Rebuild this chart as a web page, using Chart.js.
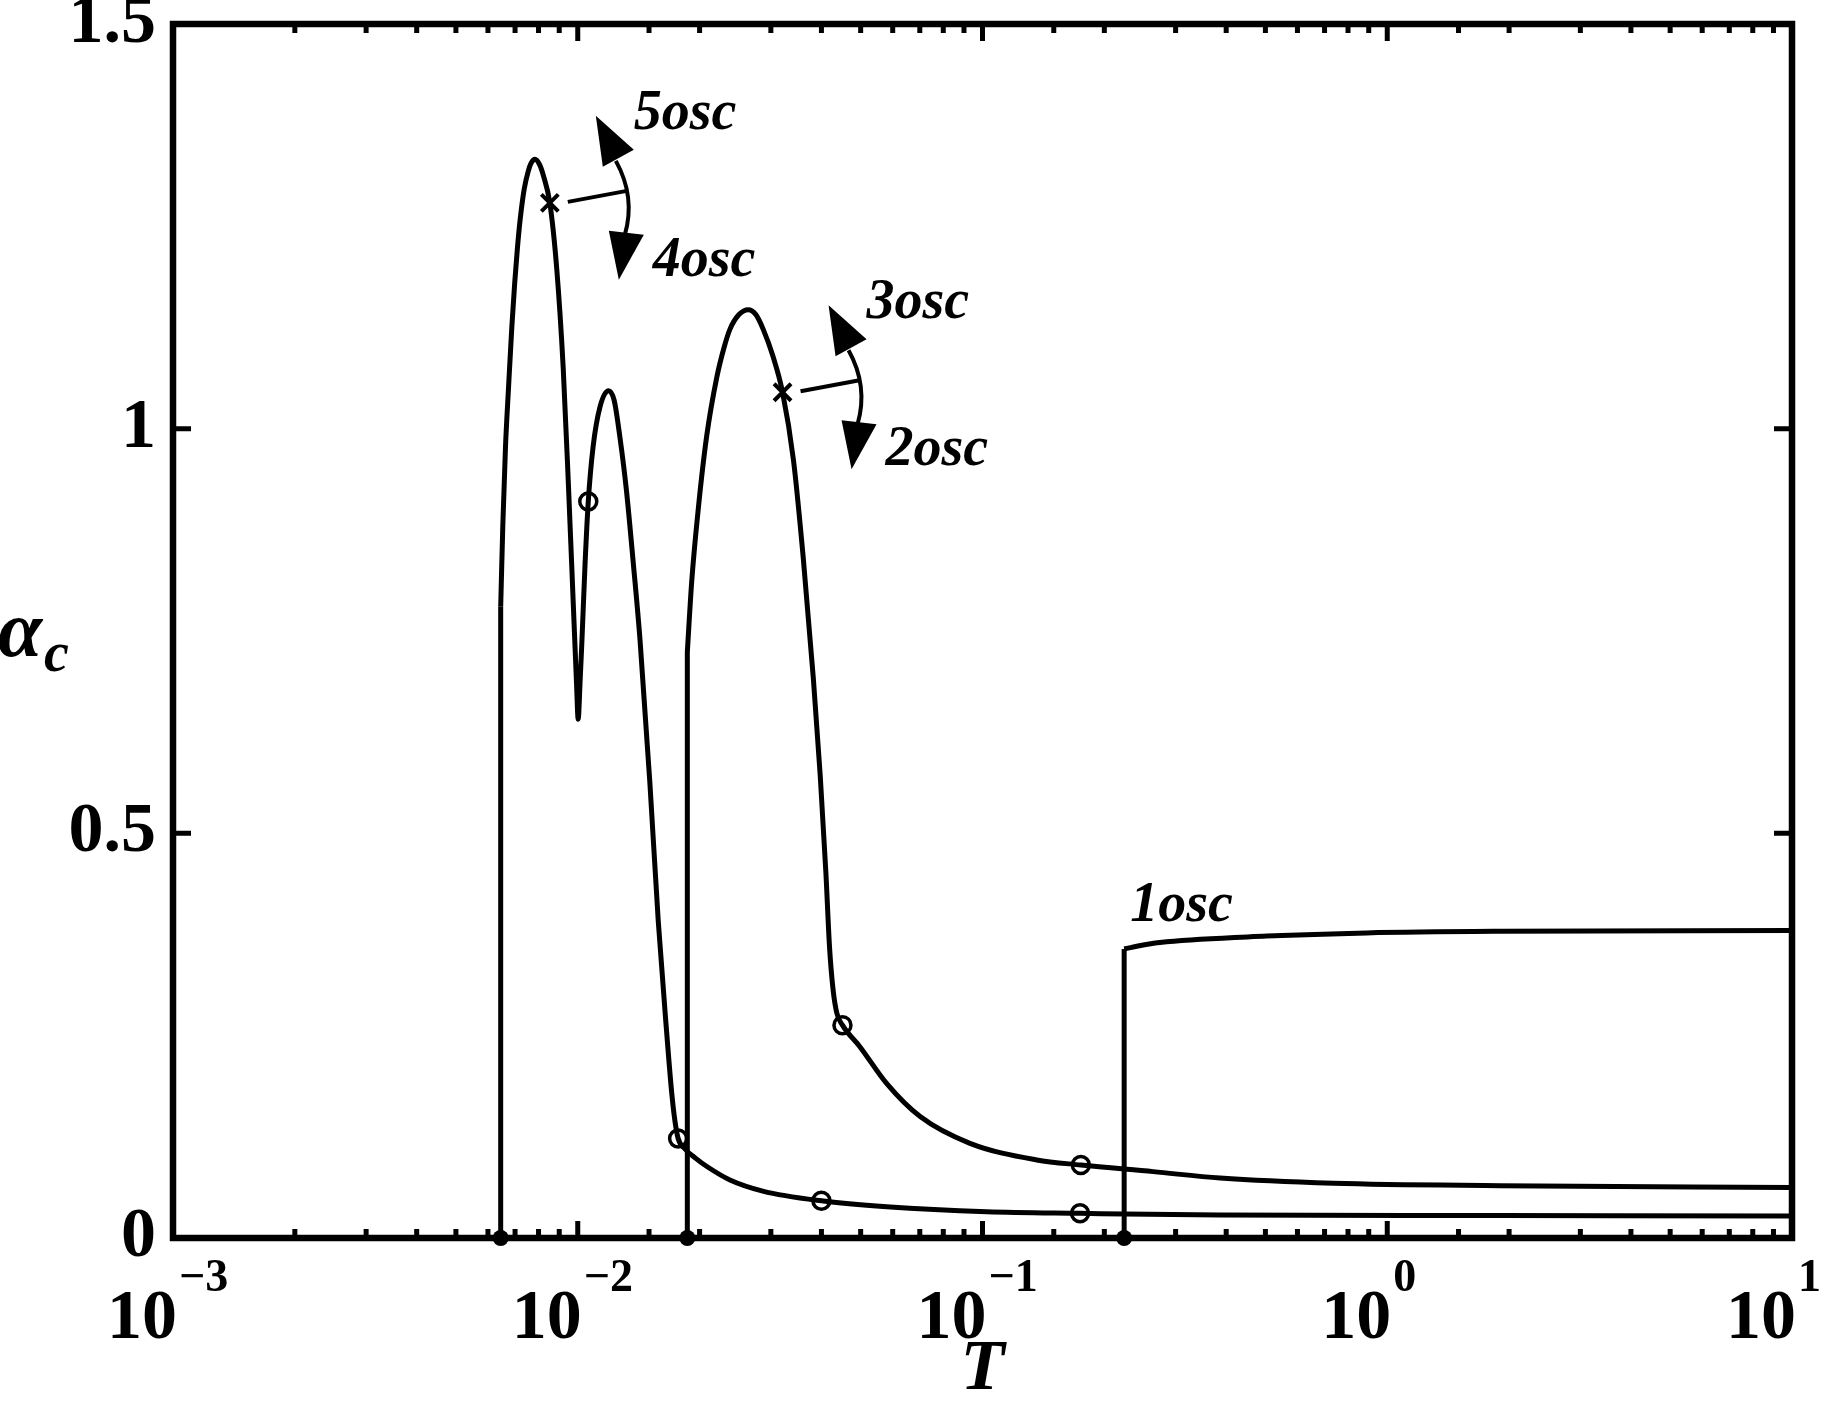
<!DOCTYPE html>
<html>
<head>
<meta charset="utf-8">
<title>alpha_c versus T</title>
<script src="https://cdn.jsdelivr.net/npm/chart.js@4.4.1/dist/chart.umd.min.js"></script>
<style>
    html, body { margin: 0; padding: 0; background: #fff; }
    #wrap { width: 1840px; height: 1403px; position: relative; }
</style>
</head>
<body>
<div id="wrap"><canvas id="chart"></canvas></div>
<script>
        // axis ticks
        const yTicks = [0, 0.5, 1, 1.5];
        const xDecades = [-3, -2, -1, 0, 1];

        // branch A (5osc / 4osc), jumps up from zero at T = 0.00645
        const aT = [0.0064508, 0.0065288, 0.0066298, 0.0067439, 0.0068716, 0.0069860, 0.0070942, 0.0072121,
            0.0073740, 0.0075438, 0.0076681, 0.0078402, 0.008054, 0.008222, 0.008531, 0.008872,
            0.009204, 0.009484, 0.009750, 0.009931, 0.010023, 0.010139, 0.010233, 0.010423,
            0.010617, 0.010914, 0.011350, 0.011912, 0.012303, 0.012706, 0.013183, 0.013709,
            0.014256, 0.015066, 0.015812, 0.016596, 0.017061, 0.017378, 0.017701, 0.018408,
            0.019498, 0.020893, 0.023768, 0.028642, 0.039994, 0.057943, 0.102329, 0.174181,
            0.386367, 1.9011, 10];
        const aAlpha = [0.780, 0.880, 0.978, 1.050, 1.125, 1.180, 1.223, 1.260,
            1.296, 1.318, 1.328, 1.333, 1.326, 1.313, 1.279, 1.198,
            1.076, 0.930, 0.783, 0.685, 0.641, 0.690, 0.734, 0.832,
            0.910, 0.978, 1.027, 1.047, 1.035, 0.990, 0.925, 0.835,
            0.738, 0.564, 0.391, 0.252, 0.180, 0.145, 0.123, 0.110,
            0.099, 0.088, 0.0717, 0.058, 0.046, 0.0387, 0.0325, 0.0305,
            0.0284, 0.0278, 0.0273];

        // branch B (3osc / 2osc), jumps up from zero at T = 0.01865
        const bT = [0.018652, 0.019122, 0.019856, 0.020826, 0.022045, 0.022979, 0.023777, 0.025026,
            0.026386, 0.027542, 0.028708, 0.030339, 0.032063, 0.034119, 0.036058, 0.038194,
            0.039719, 0.041020, 0.041879, 0.042756, 0.043652, 0.045082, 0.049774, 0.057943,
            0.070146, 0.093111, 0.136144, 0.174985, 0.264241, 0.386367, 0.736207, 1.9011, 10];
        const bAlpha = [0.724, 0.811, 0.9015, 0.991, 1.063, 1.100, 1.123, 1.141,
            1.147, 1.141, 1.123, 1.090, 1.045, 0.961, 0.841, 0.692,
            0.572, 0.452, 0.360, 0.306, 0.278, 0.263, 0.2364, 0.191,
            0.150, 0.117, 0.0964, 0.0902, 0.0820, 0.0740, 0.0676, 0.0647, 0.0623];

        // branch C (1osc), jumps up from zero at T = 0.2239
        const cT = [0.22387, 0.249459, 0.285102, 0.503501, 0.889201, 1.9011, 10];
        const cAlpha = [0.357, 0.362, 0.366, 0.373, 0.377, 0.379, 0.380];

        // markers
        const circleT = [0.010617, 0.017701, 0.039994, 0.174181, 0.045082, 0.174985];
        const circleAlpha = [0.910, 0.123, 0.046, 0.0305, 0.263, 0.0902];
        const crossT = [0.008531, 0.032063];
        const crossAlpha = [1.279, 1.045];
        const onsetT = [aT[0], bT[0], cT[0]];
        const onsetAlpha = [0, 0, 0];

        // switch annotations at the crosses
        const switchUp = ['5osc', '3osc'];
        const switchDown = ['4osc', '2osc'];
        const branchCLabel = '1osc';

        const SERIF = '"Liberation Serif", "Times New Roman", serif';

        const pts = (xs, ys) => xs.map((x, i) => ({ x: x, y: ys[i] }));

        function curve(xs, ys) {
            return {
                data: pts(xs, ys),
                borderColor: '#000',
                borderWidth: 5,
                pointRadius: 0,
                cubicInterpolationMode: 'monotone',
                fill: false
            };
        }

        function jump(t, top) {
            return {
                data: [{ x: t, y: 0 }, { x: t, y: top }],
                borderColor: '#000',
                borderWidth: 5,
                pointRadius: 0,
                tension: 0,
                fill: false
            };
        }

        const isDecade = v => Math.abs(Math.log10(v) - Math.round(Math.log10(v))) < 1e-6;

        function triangle(ctx, p) {
            ctx.beginPath();
            ctx.moveTo(p[0], p[1]);
            ctx.lineTo(p[2], p[3]);
            ctx.lineTo(p[4], p[5]);
            ctx.closePath();
            ctx.fill();
        }

        function drawSwitch(ctx, mx, my, upText, downText) {
            ctx.lineWidth = 4;
            ctx.beginPath();
            ctx.moveTo(mx + 18, my - 1);
            ctx.lineTo(mx + 77, my - 12);
            ctx.stroke();

            ctx.beginPath();
            ctx.moveTo(mx + 66, my - 42);
            ctx.quadraticCurveTo(mx + 86, my - 6, mx + 75, my + 32);
            ctx.stroke();

            triangle(ctx, [mx + 46, my - 87, mx + 84, my - 53, mx + 53, my - 36]);
            triangle(ctx, [mx + 69, my + 77, mx + 59, my + 28, mx + 94, my + 32]);

            ctx.font = 'italic bold 56px ' + SERIF;
            ctx.textAlign = 'left';
            ctx.textBaseline = 'alphabetic';
            ctx.fillText(upText, mx + 84, my - 74);
            ctx.fillText(downText, mx + 103, my + 73);
        }

        const decorations = {
            id: 'decorations',
            afterDraw(chart) {
                const { ctx, chartArea: a } = chart;
                const x = chart.scales.x;
                const y = chart.scales.y;
                ctx.save();
                ctx.strokeStyle = '#000';
                ctx.fillStyle = '#000';
                ctx.lineCap = 'butt';

                // inward ticks on all four sides
                ctx.lineWidth = 5;
                x.ticks.forEach(t => {
                    const px = x.getPixelForValue(t.value);
                    if (px < a.left + 2 || px > a.right - 2) return;
                    const len = isDecade(t.value) ? 17 : 9;
                    ctx.beginPath();
                    ctx.moveTo(px, a.bottom);
                    ctx.lineTo(px, a.bottom - len);
                    ctx.moveTo(px, a.top);
                    ctx.lineTo(px, a.top + len);
                    ctx.stroke();
                });
                yTicks.forEach(v => {
                    const py = y.getPixelForValue(v);
                    ctx.beginPath();
                    ctx.moveTo(a.left, py);
                    ctx.lineTo(a.left + 18, py);
                    ctx.moveTo(a.right, py);
                    ctx.lineTo(a.right - 18, py);
                    ctx.stroke();
                });

                // frame
                ctx.lineWidth = 6.5;
                ctx.strokeRect(a.left, a.top, a.right - a.left, a.bottom - a.top);

                // x tick labels 10^n
                ctx.textBaseline = 'alphabetic';
                xDecades.forEach(d => {
                    const px = x.getPixelForValue(Math.pow(10, d));
                    ctx.font = 'bold 70px ' + SERIF;
                    ctx.textAlign = 'right';
                    ctx.fillText('10', px + 4, a.bottom + 100);
                    ctx.font = 'bold 46px ' + SERIF;
                    ctx.textAlign = 'left';
                    ctx.fillText(d < 0 ? '\u2212' + (-d) : String(d), px + 6, a.bottom + 53);
                });

                // y axis label alpha_c
                ctx.textAlign = 'left';
                ctx.font = 'italic bold 80px ' + SERIF;
                ctx.fillText('\u03b1', -2, 656);
                ctx.font = 'italic bold 56px ' + SERIF;
                ctx.fillText('c', 44, 671);

                // switch annotations
                crossT.forEach((t, i) => {
                    drawSwitch(ctx, x.getPixelForValue(t), y.getPixelForValue(crossAlpha[i]), switchUp[i], switchDown[i]);
                });

                // 1osc label above the onset of branch C
                ctx.font = 'italic bold 56px ' + SERIF;
                ctx.textAlign = 'left';
                ctx.fillText(branchCLabel, x.getPixelForValue(cT[0]) + 6, y.getPixelForValue(cAlpha[0]) - 28);

                ctx.restore();
            }
        };

        new Chart(document.getElementById('chart'), {
            type: 'line',
            data: {
                datasets: [
                    {
                        data: pts(onsetT, onsetAlpha),
                        showLine: false,
                        pointStyle: 'circle',
                        pointRadius: 8,
                        pointBorderWidth: 0,
                        pointBackgroundColor: '#000',
                        pointBorderColor: '#000',
                        clip: false
                    },
                    {
                        data: pts(circleT, circleAlpha),
                        showLine: false,
                        pointStyle: 'circle',
                        pointRadius: 8.5,
                        pointBorderWidth: 3.5,
                        pointBorderColor: '#000',
                        pointBackgroundColor: 'rgba(0,0,0,0)'
                    },
                    {
                        data: pts(crossT, crossAlpha),
                        showLine: false,
                        pointStyle: 'crossRot',
                        pointRadius: 12,
                        pointBorderWidth: 4,
                        pointBorderColor: '#000'
                    },
                    jump(aT[0], aAlpha[0]),
                    curve(aT, aAlpha),
                    jump(bT[0], bAlpha[0]),
                    curve(bT, bAlpha),
                    jump(cT[0], cAlpha[0]),
                    curve(cT, cAlpha)
                ]
            },
            options: {
                responsive: true,
                maintainAspectRatio: false,
                animation: false,
                events: [],
                layout: { padding: { top: 24, right: 48, left: 0, bottom: 0 } },
                plugins: { legend: { display: false }, tooltip: { enabled: false } },
                scales: {
                    x: {
                        type: 'logarithmic',
                        min: 0.001,
                        max: 10,
                        grid: { display: false },
                        border: { display: false },
                        ticks: { display: false, autoSkip: false },
                        title: {
                            display: true,
                            text: 'T',
                            color: '#000',
                            padding: 0,
                            font: { family: SERIF, size: 72, style: 'italic', weight: 'bold', lineHeight: 0.9 }
                        },
                        afterFit: s => {
                            s.height = 165;
                            s.paddingLeft = 0;
                            s.paddingRight = 0;
                        }
                    },
                    y: {
                        min: 0,
                        max: 1.5,
                        grid: { display: false },
                        border: { display: false },
                        afterBuildTicks: s => { s.ticks = yTicks.map(v => ({ value: v })); },
                        ticks: {
                            color: '#000',
                            padding: 9,
                            font: { family: SERIF, size: 70, weight: 'bold' },
                            callback: v => String(v)
                        },
                        afterFit: s => {
                            s.width = 173;
                            s.paddingTop = 0;
                            s.paddingBottom = 0;
                        }
                    }
                }
            },
            plugins: [decorations]
        });
</script>
</body>
</html>
